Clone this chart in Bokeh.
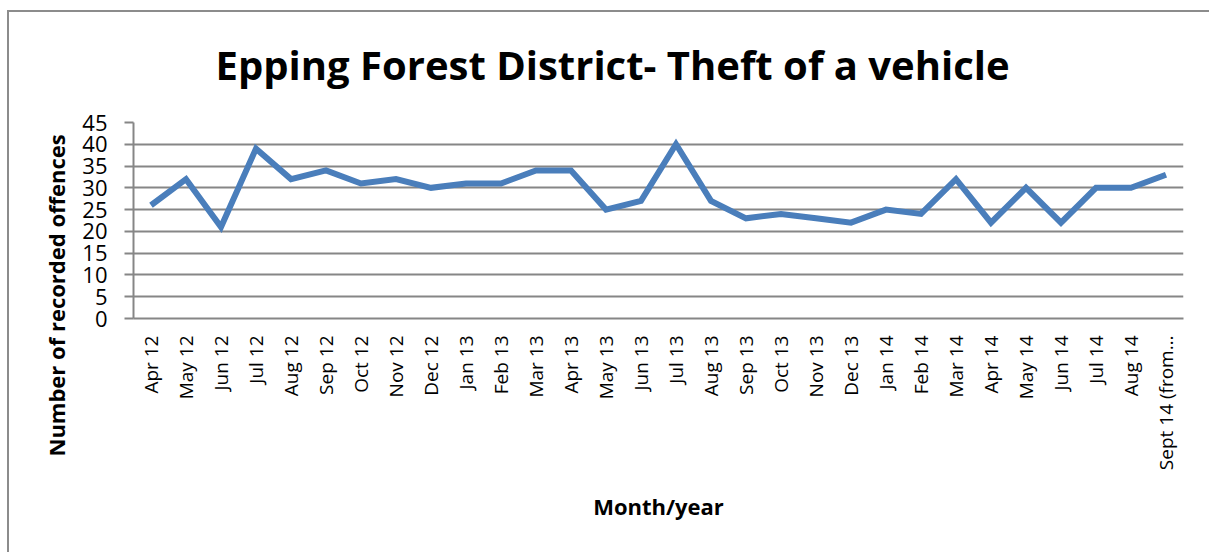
import math
from bokeh.plotting import figure
from bokeh.models import FactorRange, ColumnDataSource, Title
from bokeh.embed import file_html
from bokeh.resources import INLINE

months = ["Apr 12", "May 12", "Jun 12", "Jul 12", "Aug 12", "Sep 12", "Oct 12", "Nov 12",
          "Dec 12", "Jan 13", "Feb 13", "Mar 13", "Apr 13", "May 13", "Jun 13", "Jul 13",
          "Aug 13", "Sep 13", "Oct 13", "Nov 13", "Dec 13", "Jan 14", "Feb 14", "Mar 14",
          "Apr 14", "May 14", "Jun 14", "Jul 14", "Aug 14", "Sept 14 (from\u2026"]
offences = [26, 32, 21, 39, 32, 34, 31, 32, 30, 31, 31, 34, 34, 25, 27, 40,
            27, 23, 24, 23, 22, 25, 24, 32, 22, 30, 22, 30, 30, 33]
y_ticks = [0, 5, 10, 15, 20, 25, 30, 35, 40, 45]

FONT = "Open Sans"
GREY = "#868686"
BORDER = "#8c8c8c"

src = ColumnDataSource(dict(m=months, v=offences))

p = figure(width=1209, height=552, x_range=FactorRange(*months, range_padding=0),
           y_range=(0, 45), output_backend="svg", toolbar_location=None,
           min_border_left=133, min_border_right=26, min_border_top=122, min_border_bottom=234)
p.border_fill_color = None
p.background_fill_color = "white"
p.styles = {"background": (f"linear-gradient({BORDER},{BORDER}) 7px 10px / 2px 100% no-repeat, "
                           f"linear-gradient({BORDER},{BORDER}) 7px 10px / 100% 2px no-repeat, white")}

p.line("m", "v", source=src, line_color="#4a7ebb", line_width=6, line_join="miter")

p.outline_line_color = None
p.xgrid.grid_line_color = None
p.ygrid.grid_line_color = GREY
p.ygrid.grid_line_width = 2
p.yaxis.ticker = y_ticks
p.yaxis.axis_line_color = GREY
p.yaxis.axis_line_width = 2
p.yaxis.major_tick_line_color = GREY
p.yaxis.major_tick_line_width = 2
p.yaxis.major_tick_out = 9
p.yaxis.major_tick_in = 0
p.yaxis.minor_tick_line_color = None
p.yaxis.major_label_text_font = FONT
p.yaxis.major_label_text_font_size = "22px"
p.yaxis.major_label_text_color = "black"
p.yaxis.major_label_standoff = 17

p.xaxis.axis_line_color = GREY
p.xaxis.axis_line_width = 2
p.xaxis.major_tick_line_color = None
p.xaxis.minor_tick_line_color = None
p.xaxis.major_label_orientation = math.pi / 2
p.xaxis.major_label_text_font = FONT
p.xaxis.major_label_text_font_size = "19px"
p.xaxis.major_label_text_color = "black"
p.xaxis.major_label_standoff = 11
p.xaxis.axis_label = "Month/year"
p.xaxis.axis_label_text_font = FONT
p.xaxis.axis_label_text_font_style = "bold"
p.xaxis.axis_label_text_font_size = "22px"
p.xaxis.axis_label_text_color = "black"
p.xaxis.axis_label_standoff = 18

p.add_layout(Title(text="Epping Forest District- Theft of a vehicle", align="left", offset=82,
                   vertical_align="middle",
                   text_font=FONT, text_font_style="bold", text_font_size="40px",
                   text_color="black", standoff=60), "above")
p.add_layout(Title(text="Number of recorded offences", align="left", offset=-138,
                   text_font=FONT, text_font_style="bold", text_font_size="22px",
                   text_color="black", standoff=18), "left")

open("out.html", "w").write(file_html(p, INLINE))
